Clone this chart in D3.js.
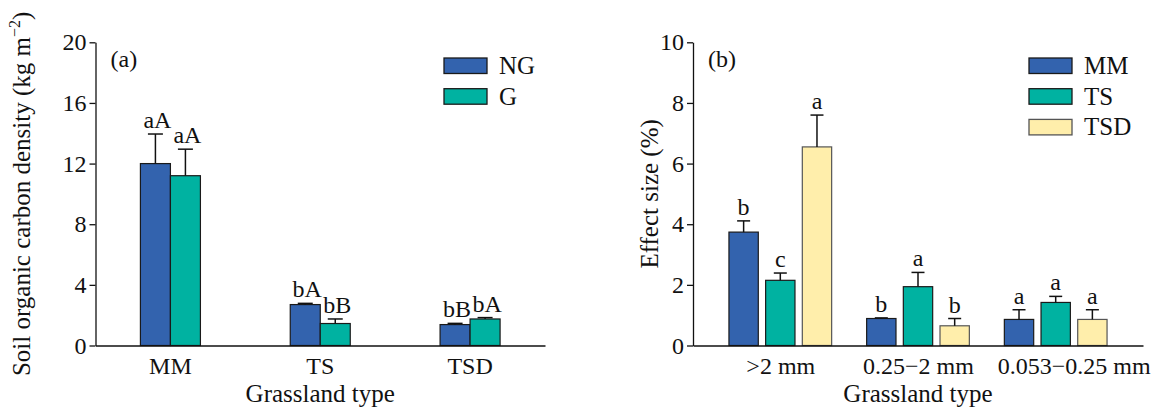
<!DOCTYPE html>
<html><head><meta charset="utf-8">
<script src="https://cdn.jsdelivr.net/npm/d3@7"></script>
<style>
body{margin:0;background:#fff;}
svg{display:block;}
text{font-family:"Liberation Serif","Times New Roman",serif;fill:#111;}
</style></head>
<body>
<svg id="chart" width="1160" height="410"></svg>
<script>
// ---------- data ----------
const catsA = ["MM", "TS", "TSD"];
const seriesA = ["NG", "G"];
const meanNG = [12.0, 2.7, 1.38];
const errNG = [1.95, 0.08, 0.08];
const meanG = [11.2, 1.45, 1.75];
const errG = [1.75, 0.3, 0.09];
const sigNG = ["aA", "bA", "bB"];
const sigG = ["aA", "bB", "bA"];
const ticksA = [0, 4, 8, 12, 16, 20];

const catsB = [">2 mm", "0.25\u22122 mm", "0.053\u22120.25 mm"];
const seriesB = ["MM", "TS", "TSD"];
const meanMM = [3.74, 0.89, 0.86];
const errMM = [0.37, 0.02, 0.32];
const meanTS = [2.15, 1.94, 1.42];
const errTS = [0.24, 0.47, 0.2];
const meanTSD = [6.55, 0.65, 0.86];
const errTSD = [1.05, 0.24, 0.32];
const sigMM = ["b", "b", "a"];
const sigTS = ["c", "a", "a"];
const sigTSD = ["a", "b", "a"];
const ticksB = [0, 2, 4, 6, 8, 10];

const colorA = {NG: "#3363ae", G: "#00b2a1"};
const colorB = {MM: "#3363ae", TS: "#00b2a1", TSD: "#ffeeab"};
const strokeB = {MM: "#1a1a1a", TS: "#1a1a1a", TSD: "#555"};

const svg = d3.select("#chart");
svg.append("rect").attr("width", 1160).attr("height", 410).attr("fill", "#fff");

const FS = 24;
const TFS = 25;

function styleAxis(g) {
  g.selectAll("path.domain").attr("stroke", "#111").attr("stroke-width", 1.3);
  g.selectAll(".tick line").attr("stroke", "#111").attr("stroke-width", 1.3);
  g.selectAll("text").attr("font-size", FS).attr("font-family", '"Liberation Serif","Times New Roman",serif').attr("fill", "#111");
}

function panel(opt) {
  const y = d3.scaleLinear().domain(opt.yDomain).range([opt.bottom, opt.top]);
  const g = svg.append("g");

  const rows = [];
  opt.cats.forEach((c, i) => {
    opt.series.forEach((s, j) => {
      rows.push({c, s, v: opt.means[j][i], e: opt.errs[j][i], lab: opt.sigs[j][i]});
    });
  });
  const cx = d => opt.xCenter(d.c) + opt.inner(d.s);
  const bw = opt.inner.bandwidth();

  g.selectAll("rect.bar").data(rows).enter().append("rect")
    .attr("x", d => cx(d)).attr("width", bw)
    .attr("y", d => y(d.v)).attr("height", d => y(0) - y(d.v))
    .attr("fill", d => opt.colors[d.s]).attr("stroke", d => opt.strokes[d.s]).attr("stroke-width", 1.2);

  g.selectAll("line.err").data(rows).enter().append("line")
    .attr("x1", d => cx(d) + bw / 2).attr("x2", d => cx(d) + bw / 2)
    .attr("y1", d => y(d.v)).attr("y2", d => y(d.v + d.e))
    .attr("stroke", "#111").attr("stroke-width", 1.5);
  g.selectAll("line.cap").data(rows).enter().append("line")
    .attr("x1", d => cx(d) + bw / 2 - opt.cap / 2).attr("x2", d => cx(d) + bw / 2 + opt.cap / 2)
    .attr("y1", d => y(d.v + d.e)).attr("y2", d => y(d.v + d.e))
    .attr("stroke", "#111").attr("stroke-width", 1.5);

  g.selectAll("text.sig").data(rows).enter().append("text")
    .attr("x", d => cx(d) + bw / 2 + opt.sigDx).attr("y", d => y(d.v + d.e) - 6)
    .attr("text-anchor", "middle").attr("font-size", FS).text(d => d.lab);

  const gy = svg.append("g").attr("transform", `translate(${opt.left},0)`)
    .call(d3.axisLeft(y).tickValues(opt.ticks).tickSize(6).tickSizeOuter(0).tickPadding(3));
  styleAxis(gy);
  const gx = svg.append("g").attr("transform", `translate(0,${opt.bottom})`)
    .call(d3.axisBottom(opt.xAxisScale).tickSize(0).tickSizeOuter(0).tickPadding(11));
  styleAxis(gx);
  if (opt.lastDx) gx.selectAll(".tick text").filter((d, i, n) => i === n.length - 1).attr("dx", opt.lastDx);

  svg.append("text").attr("x", (opt.left + opt.right) / 2).attr("y", 402)
    .attr("text-anchor", "middle").attr("font-size", TFS).text("Grassland type");
  const yt = svg.append("text").attr("transform", `translate(${opt.yTitleX},${(opt.top + opt.bottom) / 2}) rotate(-90)`)
    .attr("text-anchor", "middle").attr("font-size", TFS);
  opt.yTitle(yt);

  svg.append("text").attr("x", opt.left + 15).attr("y", 67).attr("font-size", FS).text(opt.tag);

  opt.series.forEach((s, j) => {
    const ly = opt.legY + j * 30.7;
    svg.append("rect").attr("x", opt.legX).attr("y", ly).attr("width", 43).attr("height", 15.5)
      .attr("fill", opt.colors[s]).attr("stroke", opt.strokes[s]).attr("stroke-width", 1.3);
    svg.append("text").attr("x", opt.legX + 55).attr("y", ly + 16).attr("font-size", TFS).text(s);
  });
}

// ---------- panel (a) ----------
const xa = d3.scaleBand().domain(catsA).range([95.5, 545]).padding(0);
panel({
  cats: catsA, series: seriesA,
  means: [meanNG, meanG], errs: [errNG, errG], sigs: [sigNG, sigG],
  yDomain: [0, 20], ticks: ticksA,
  left: 95.5, right: 545, top: 42.3, bottom: 345.5,
  xCenter: c => xa(c) + xa.bandwidth() / 2,
  inner: d3.scaleBand().domain(seriesA).range([-30, 30]).padding(0),
  xAxisScale: xa,
  colors: colorA, strokes: {NG: "#1a1a1a", G: "#1a1a1a"},
  cap: 15, sigDx: 2,
  yTitleX: 30,
  yTitle: t => {
    t.append("tspan").text("Soil organic carbon density (kg m");
    t.append("tspan").attr("dy", -10).attr("font-size", 16).text("\u22122");
    t.append("tspan").attr("dy", 10).text(")");
  },
  tag: "(a)", legX: 444, legY: 58
});

// ---------- panel (b) ----------
const xb = d3.scalePoint().domain(catsB).range([693, 1143]).padding(0.634);
panel({
  cats: catsB, series: seriesB,
  means: [meanMM, meanTS, meanTSD], errs: [errMM, errTS, errTSD], sigs: [sigMM, sigTS, sigTSD],
  yDomain: [0, 10], ticks: ticksB,
  left: 693, right: 1143, top: 42.3, bottom: 345.5,
  xCenter: c => xb(c),
  inner: d3.scaleBand().domain(seriesB).range([-51.35, 51.35]).paddingInner(0.2).paddingOuter(0),
  xAxisScale: xb,
  colors: colorB, strokes: strokeB,
  cap: 13, sigDx: 0,
  yTitleX: 658,
  yTitle: t => t.text("Effect size (%)"),
  tag: "(b)", legX: 1029, legY: 58,
  lastDx: 18
});
</script>
</body></html>
